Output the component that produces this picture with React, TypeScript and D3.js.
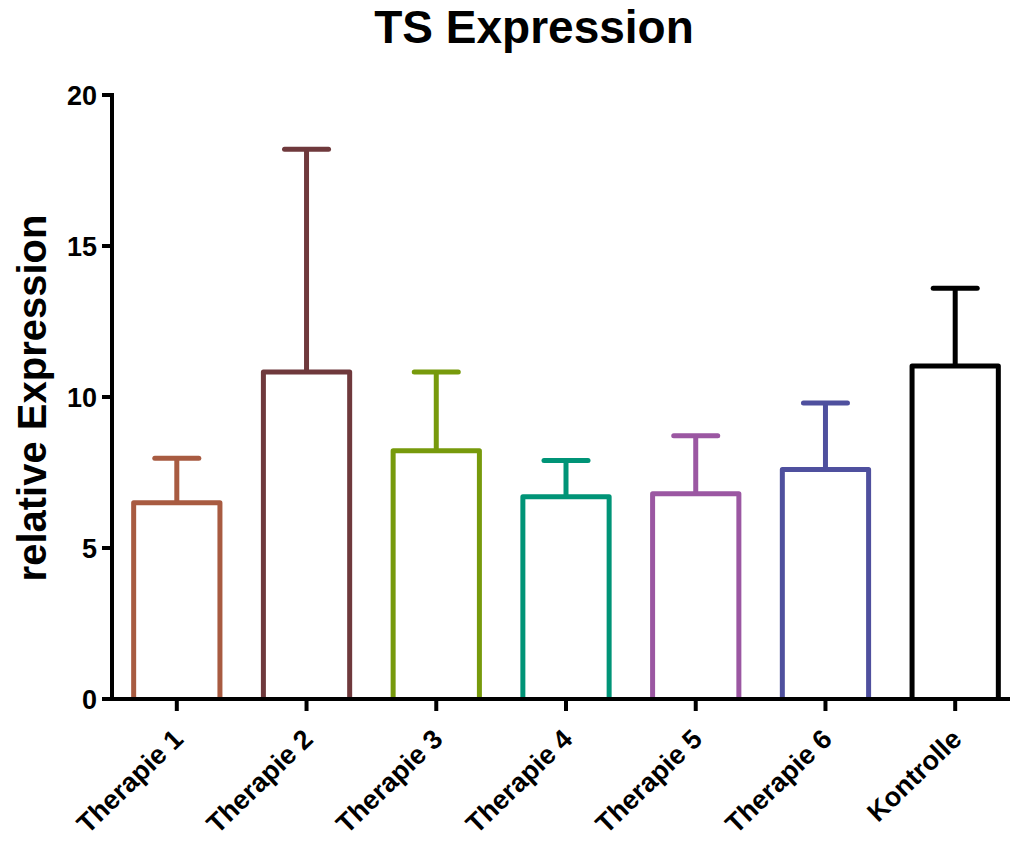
import React, { useEffect, useRef } from "react"
import * as d3 from "d3"

const categories = ["Therapie 1", "Therapie 2", "Therapie 3", "Therapie 4", "Therapie 5", "Therapie 6", "Kontrolle"]
const means = [6.5, 10.83, 8.22, 6.7, 6.8, 7.6, 11.03]
const upperErr = [7.97, 18.2, 10.83, 7.9, 8.72, 9.8, 13.6]
const colors = ["#A85B41", "#6F393C", "#779A0C", "#009477", "#9B57A2", "#4F509E", "#000000"]
const yTicks = [0, 5, 10, 15, 20]

const W = 1010
const H = 841
const font = "'Liberation Sans', Arial, Helvetica, sans-serif"

const App = () => {
  const ref = useRef<SVGSVGElement>(null)

  useEffect(() => {
    const svg = d3.select(ref.current)
    svg.selectAll("*").remove()

    const x = d3.scaleBand<string>()
      .domain(categories)
      .range([112, 1020])
      .paddingInner(0.335)
      .paddingOuter(0.167)
    const y = d3.scaleLinear().domain([0, 20]).range([699, 95])

    // title
    svg.append("text")
      .attr("x", 534)
      .attr("y", 43)
      .attr("text-anchor", "middle")
      .attr("font-family", font)
      .attr("font-weight", "bold")
      .attr("font-size", 46)
      .text("TS Expression")

    // y label
    svg.append("text")
      .attr("transform", "translate(46," + 398 + ") rotate(-90)")
      .attr("text-anchor", "middle")
      .attr("font-family", font)
      .attr("font-weight", "bold")
      .attr("font-size", 40)
      .text("relative Expression")

    // bars
    const g = svg.append("g")
    categories.forEach((c, i) => {
      const cx = x(c)! + x.bandwidth() / 2
      // error bar (upper only)
      g.append("line")
        .attr("x1", cx).attr("x2", cx)
        .attr("y1", y(means[i])).attr("y2", y(upperErr[i]))
        .attr("stroke", colors[i]).attr("stroke-width", 5)
      g.append("line")
        .attr("x1", cx - 22).attr("x2", cx + 22)
        .attr("y1", y(upperErr[i])).attr("y2", y(upperErr[i]))
        .attr("stroke", colors[i]).attr("stroke-width", 5)
        .attr("stroke-linecap", "round")
      g.append("path")
        .attr("d", d3.line()([
          [x(c)!, y(0)],
          [x(c)!, y(means[i])],
          [x(c)! + x.bandwidth(), y(means[i])],
          [x(c)! + x.bandwidth(), y(0)],
        ]))
        .attr("fill", "none")
        .attr("stroke", colors[i])
        .attr("stroke-width", 5)
        .attr("stroke-linejoin", "round")
    })

    // y axis
    svg.append("line")
      .attr("x1", 112).attr("x2", 112)
      .attr("y1", y(20) - 2).attr("y2", y(0) + 2)
      .attr("stroke", "#000").attr("stroke-width", 4)
    yTicks.forEach(t => {
      svg.append("line")
        .attr("x1", 102).attr("x2", 112)
        .attr("y1", y(t)).attr("y2", y(t))
        .attr("stroke", "#000").attr("stroke-width", 4)
      svg.append("text")
        .attr("x", 97)
        .attr("y", y(t))
        .attr("dy", "0.36em")
        .attr("text-anchor", "end")
        .attr("font-family", font)
        .attr("font-weight", "bold")
        .attr("font-size", 27)
        .text(t)
    })

    // x axis
    svg.append("line")
      .attr("x1", 110).attr("x2", W)
      .attr("y1", y(0)).attr("y2", y(0))
      .attr("stroke", "#000").attr("stroke-width", 4)
    categories.forEach(c => {
      const cx = x(c)! + x.bandwidth() / 2
      svg.append("line")
        .attr("x1", cx).attr("x2", cx)
        .attr("y1", y(0)).attr("y2", y(0) + 12)
        .attr("stroke", "#000").attr("stroke-width", 4)
      svg.append("text")
        .attr("transform", "translate(" + (cx + 8) + "," + 741 + ") rotate(-44)")
        .attr("text-anchor", "end")
        .attr("font-family", font)
        .attr("font-weight", "bold")
        .attr("font-size", 27)
        .text(c)
    })
  }, [])

  return (
    <svg
      ref={ref}
      width={W}
      height={H}
      style={{ position: "absolute", left: 0, top: 0, background: "#fff" }}
    />
  )
}

export default App
